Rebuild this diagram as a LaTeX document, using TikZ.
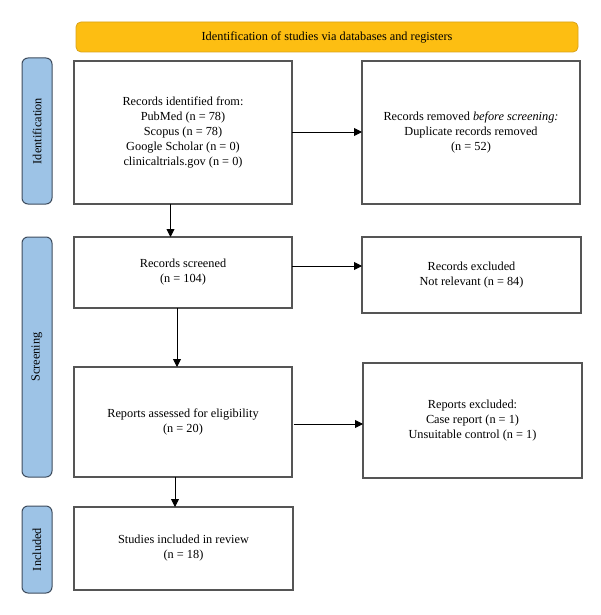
\documentclass[tikz,border=0pt]{standalone}
\usepackage{fontspec}
\setmainfont{Liberation Serif}
\usetikzlibrary{arrows.meta}
\definecolor{bannerfill}{HTML}{FDBE12}
\definecolor{bannerdraw}{HTML}{D9A21A}
\definecolor{labfill}{HTML}{9DC3E6}
\definecolor{labdraw}{HTML}{3E4C5E}
\definecolor{boxdraw}{HTML}{555555}
\tikzset{
  every node/.style={font=\fontsize{12.3}{15}\selectfont, inner sep=0pt, outer sep=0pt},
  box/.style={draw=boxdraw, line width=1.1pt, fill=white, anchor=north west, align=center},
  banner/.style={draw=bannerdraw, line width=0.8pt, fill=bannerfill, rounded corners=5pt, anchor=north west, align=center},
  phase/.style={draw=labdraw, line width=1pt, fill=labfill, rounded corners=6pt, anchor=north west},
  phasetext/.style={rotate=90},
  arr/.style={draw=black, line width=0.9pt, -{Triangle[length=8pt,width=8pt]}}
}
\begin{document}
\begin{tikzpicture}[x=1pt,y=-1pt]
\useasboundingbox (0,0) rectangle (600,615);
\node[banner, minimum width=502pt, minimum height=30pt] (ban) at (76,22) {Identification of studies via databases and registers};

\node[phase, minimum width=30pt, minimum height=146pt] (lid) at (22,58) {};
\node[phasetext] (lidt) at (lid.center) {Identification};
\node[phase, minimum width=30pt, minimum height=240pt] (lsc) at (22,237) {};
\node[phasetext] (lsct) at (lsc.center) {Screening};
\node[phase, minimum width=30pt, minimum height=87pt] (lin) at (22,506) {};
\node[phasetext] (lint) at (lin.center) {Included};

\node[box, minimum width=218pt, minimum height=143pt] (b1) at (74,61) {Records identified from:\\PubMed (n = 78)\\Scopus (n = 78)\\Google Scholar (n = 0)\\clinicaltrials.gov (n = 0)};
\node[box, minimum width=218pt, minimum height=143pt] (b2) at (362,61) {Records removed \textit{before screening:}\\Duplicate records removed\\(n = 52)};
\node[box, minimum width=218pt, minimum height=71pt] (b3) at (74,237) {Records screened\\(n = 104)};
\node[box, minimum width=219pt, minimum height=76pt] (b4) at (362,237) {Records excluded\\Not relevant (n = 84)};
\node[box, minimum width=218pt, minimum height=110pt] (b5) at (74,367) {Reports assessed for eligibility\\(n = 20)};
\node[box, minimum width=219pt, minimum height=115pt] (b6) at (363,363) {Reports excluded:\\Case report (n = 1)\\Unsuitable control (n = 1)};
\node[box, minimum width=219pt, minimum height=83pt] (b7) at (74,507) {Studies included in review\\(n = 18)};

\coordinate (a12) at ([yshift=0.5pt]b1.east);
\draw[arr] (a12) -- (a12 -| b2.west);
\coordinate (a13) at ([xshift=-12.5pt]b1.south);
\draw[arr] (a13) -- (a13 |- b3.north);
\coordinate (a34) at ([yshift=6.5pt]b3.east);
\draw[arr] (a34) -- (a34 -| b4.west);
\coordinate (a35) at ([xshift=-6pt]b3.south);
\draw[arr] (a35) -- (a35 |- b5.north);
\coordinate (a56) at ([yshift=-2pt,xshift=1.5pt]b5.east);
\draw[arr] (a56) -- (a56 -| b6.west);
\coordinate (a57) at ([xshift=-8pt]b5.south);
\draw[arr] (a57) -- (a57 |- b7.north);
\end{tikzpicture}
\end{document}
